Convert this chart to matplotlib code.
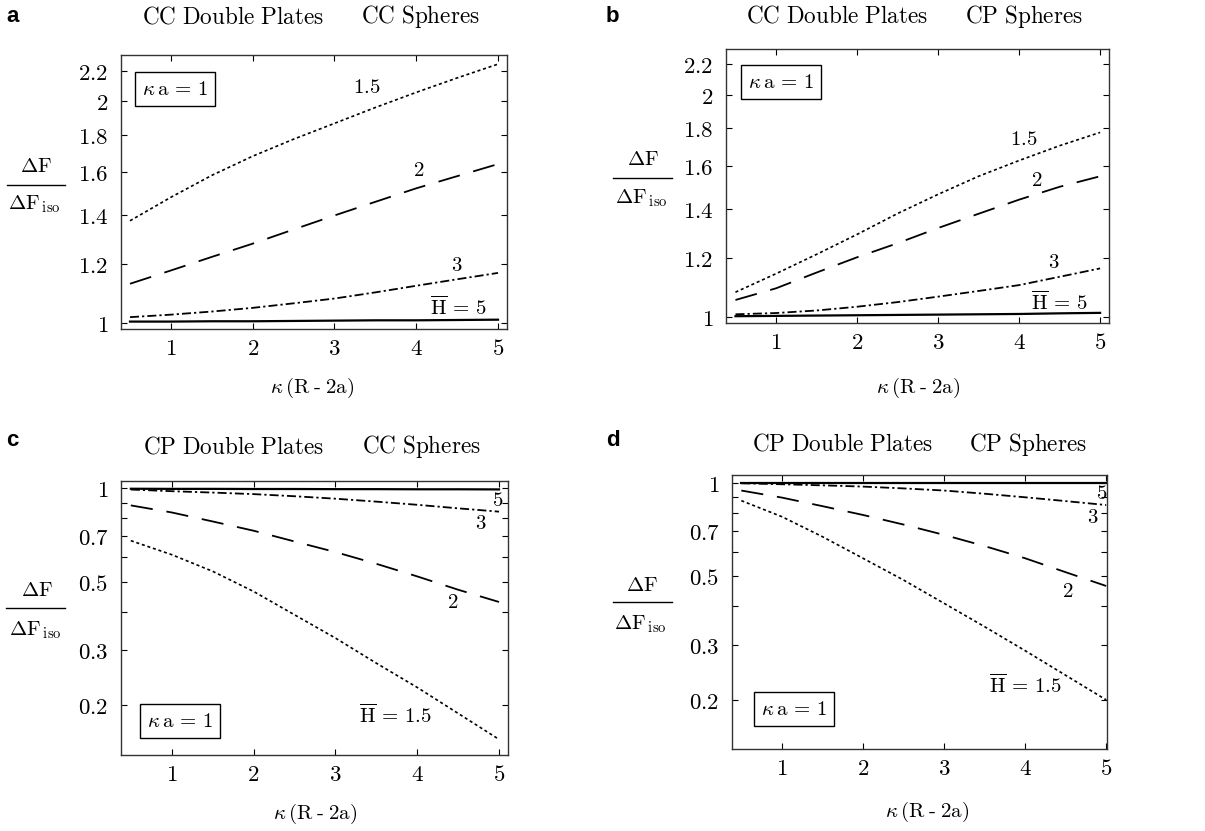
import matplotlib
matplotlib.use("Agg")
import matplotlib.pyplot as plt
from matplotlib.lines import Line2D

plt.rcParams['mathtext.fontset'] = 'cm'
plt.rcParams['lines.scale_dashes'] = False

# ---------------- data ----------------
x = [0.5, 1, 1.5, 2, 2.5, 3, 3.5, 4, 4.5, 5]

a_h15 = [1.375, 1.48, 1.585, 1.683, 1.775, 1.865, 1.96, 2.055, 2.15, 2.245]
a_h2 = [1.129, 1.177, 1.228, 1.28, 1.338, 1.398, 1.459, 1.522, 1.581, 1.642]
a_h3 = [1.017, 1.025, 1.035, 1.047, 1.062, 1.078, 1.099, 1.122, 1.145, 1.168]
a_h5 = [1.003, 1.003, 1.004, 1.004, 1.005, 1.006, 1.007, 1.007, 1.008, 1.009]

b_h15 = [1.08, 1.144, 1.215, 1.293, 1.38, 1.465, 1.55, 1.628, 1.705, 1.777]
b_h2 = [1.054, 1.093, 1.148, 1.204, 1.258, 1.319, 1.379, 1.441, 1.5, 1.55]
b_h3 = [1.008, 1.012, 1.02, 1.032, 1.047, 1.065, 1.084, 1.104, 1.133, 1.163]
b_h5 = [1.002, 1.003, 1.004, 1.005, 1.006, 1.007, 1.008, 1.009, 1.011, 1.0125]

c_h15 = [0.678, 0.611, 0.54, 0.465, 0.391, 0.329, 0.273, 0.228, 0.188, 0.155]
c_h2 = [0.881, 0.836, 0.782, 0.73, 0.674, 0.623, 0.571, 0.52, 0.471, 0.43]
c_h3 = [0.991, 0.979, 0.969, 0.958, 0.943, 0.926, 0.906, 0.885, 0.862, 0.841]
c_h5 = [0.997, 0.996, 0.996, 0.995, 0.995, 0.994, 0.994, 0.993, 0.993, 0.992]

d_h15 = [0.875, 0.777, 0.67, 0.571, 0.486, 0.409, 0.344, 0.288, 0.24, 0.2]
d_h2 = [0.943, 0.895, 0.84, 0.787, 0.733, 0.679, 0.625, 0.571, 0.515, 0.465]
d_h3 = [0.995, 0.988, 0.98, 0.971, 0.958, 0.943, 0.921, 0.897, 0.872, 0.847]
d_h5 = [0.999, 0.999, 0.999, 0.999, 0.999, 0.999, 0.999, 0.999, 0.999, 0.999]

x_ticks = [1, 2, 3, 4, 5]
yticks_up = [1, 1.2, 1.4, 1.6, 1.8, 2, 2.2]
yticks_up_labels = ['1', '1.2', '1.4', '1.6', '1.8', '2', '2.2']
yticks_down = [0.2, 0.3, 0.5, 0.7, 1]
yticks_down_labels = ['0.2', '0.3', '0.5', '0.7', '1']
yticks_down_minor = [0.4, 0.6, 0.8, 0.9]

panels = {
    'a': dict(title=('CC Double Plates', 'CC Spheres'), series=(a_h15, a_h2, a_h3, a_h5)),
    'b': dict(title=('CC Double Plates', 'CP Spheres'), series=(b_h15, b_h2, b_h3, b_h5)),
    'c': dict(title=('CP Double Plates', 'CC Spheres'), series=(c_h15, c_h2, c_h3, c_h5)),
    'd': dict(title=('CP Double Plates', 'CP Spheres'), series=(d_h15, d_h2, d_h3, d_h5)),
}

# ---------------- layout (pixels) ----------------
W, H = 1205, 831
fig = plt.figure(figsize=(W / 100, H / 100), dpi=100)


def fx(px):
    return px / W


def fy(py):
    return 1 - py / H


boxes = {  # left, right, top, bottom
    'a': (121, 507, 55, 329),
    'b': (726, 1109, 49, 323),
    'c': (121, 508, 481, 755),
    'd': (732, 1107, 475, 749),
}
xlims = {'a': (0.39, 5.11), 'b': (0.383, 5.11), 'c': (0.38, 5.11), 'd': (0.385, 5.01)}
ylims = {'a': (0.98, 2.31), 'b': (0.981, 2.305), 'c': (0.138, 1.056), 'd': (0.139, 1.058)}

letter_pos = {'a': (6, 16), 'b': (606, 16), 'c': (6, 440), 'd': (606, 440)}
title_pos = {'a': (233, 420, 17), 'b': (837, 1024, 16), 'c': (234, 421, 447), 'd': (843, 1028, 444)}
ylab_pos = {  # dF center, line y, line x0, x1, dFiso center
    'a': ((36, 166), 185, 7, 65, (34, 204)),
    'b': ((643, 159), 178, 613, 672, (641, 198)),
    'c': ((37, 590), 608, 6, 65, (35, 630)),
    'd': ((642, 585), 602, 613, 672, (640, 624)),
}
xlab_pos = {'a': (312, 388), 'b': (918, 388), 'c': (315, 814), 'd': (927, 812)}
kbox_pos = {'a': (175, 89), 'b': (781, 82), 'c': (180, 721), 'd': (794, 709)}

curve_labels = {
    'a': [(3.39, 2.09, r'$1.5$'), (4.03, 1.61, r'$2$'), (4.49, 1.198, r'$3$'),
          (4.51, 1.048, r'$\overline{\mathrm{H}}\,=\,5$')],
    'b': [(4.06, 1.74, r'$1.5$'), (4.22, 1.53, r'$2$'), (4.43, 1.186, r'$3$'),
          (4.5, 1.047, r'$\overline{\mathrm{H}}\,=\,5$')],
    'c': [(3.73, 0.186, r'$\overline{\mathrm{H}}\,=\,1.5$'), (4.43, 0.43, r'$2$'),
          (4.78, 0.773, r'$3$'), (4.99, 0.917, r'$5$')],
    'd': [(4.0, 0.223, r'$\overline{\mathrm{H}}\,=\,1.5$'), (4.53, 0.448, r'$2$'),
          (4.83, 0.776, r'$3$'), (4.94, 0.927, r'$5$')],
}

styles = [
    dict(dashes=(2.2, 2.0), lw=1.2),            # H = 1.5 dotted
    dict(dashes=(16, 10), lw=1.3),              # H = 2 long dash
    dict(dashes=(6.5, 2.2, 1.6, 2.2), lw=1.3),  # H = 3 dash-dot
    dict(dashes=(), lw=1.6),                    # H = 5 solid
]

FS = 15
TICKFS = 16.5
TITLEFS = 16.7

for key, p in panels.items():
    l, r, t, b = boxes[key]
    ax = fig.add_axes([fx(l), fy(b), fx(r) - fx(l), fy(t) - fy(b)])
    ax.set_yscale('log')
    for ys, st in zip(p['series'], styles):
        line, = ax.plot(x, ys, color='black', lw=st['lw'])
        if st['dashes']:
            line.set_dashes(st['dashes'])
    ax.set_xlim(*xlims[key])
    ax.set_ylim(*ylims[key])
    ax.set_xticks(x_ticks, labels=[f'${v}$' for v in x_ticks])
    ax.minorticks_off()
    if key in ('a', 'b'):
        ax.set_yticks(yticks_up, labels=[f'${s}$' for s in yticks_up_labels])
    else:
        ax.set_yticks(yticks_down, labels=[f'${s}$' for s in yticks_down_labels])
        ax.set_yticks(yticks_down_minor, minor=True)
        ax.yaxis.set_minor_formatter(matplotlib.ticker.NullFormatter())
    ax.tick_params(which='both', direction='in', top=True, right=True,
                   length=4, width=0.8, labelsize=TICKFS, pad=6)
    ax.tick_params(axis='y', pad=9)
    for s in ax.spines.values():
        s.set_linewidth(1.0)
        s.set_color('#333333')

    for cx, cy, txt in curve_labels[key]:
        ax.text(cx, cy, txt, fontsize=FS, ha='center', va='center')

    # kappa a = 1 box
    kx, ky = kbox_pos[key]
    fig.text(fx(kx), fy(ky), r'$\kappa\,\mathrm{a}\,=\,1$', fontsize=FS,
             ha='center', va='center',
             bbox=dict(boxstyle='square,pad=0.35', fc='white', ec='black', lw=1.0))

    # panel letter
    lx, ly = letter_pos[key]
    fig.text(fx(lx), fy(ly), key, fontsize=16, fontweight='bold',
             family='Liberation Sans', ha='left', va='center')

    # titles
    t1, t2, ty = title_pos[key]
    fig.text(fx(t1), fy(ty), r'$\mathrm{' + p['title'][0].replace(' ', r'\ ') + '}$',
             fontsize=TITLEFS, ha='center', va='center')
    fig.text(fx(t2), fy(ty), r'$\mathrm{' + p['title'][1].replace(' ', r'\ ') + '}$',
             fontsize=TITLEFS, ha='center', va='center')

    # y label as fraction
    (dfx, dfy), liney, lx0, lx1, (isx, isy) = ylab_pos[key]
    fig.text(fx(dfx), fy(dfy), r'$\Delta\mathrm{F}$', fontsize=FS, ha='center', va='center')
    fig.add_artist(Line2D([fx(lx0), fx(lx1)], [fy(liney), fy(liney)],
                          transform=fig.transFigure, color='black', lw=1.0))
    fig.text(fx(isx), fy(isy), r'$\Delta\mathrm{F}_{\,\mathrm{iso}}$', fontsize=FS,
             ha='center', va='center')

    # x label
    xx, xy = xlab_pos[key]
    fig.text(fx(xx), fy(xy), r'$\kappa\,(\mathrm{R}\;\text{-}\;\mathrm{2a})$', fontsize=FS,
             ha='center', va='center')

fig.savefig('out.png', dpi=100)
